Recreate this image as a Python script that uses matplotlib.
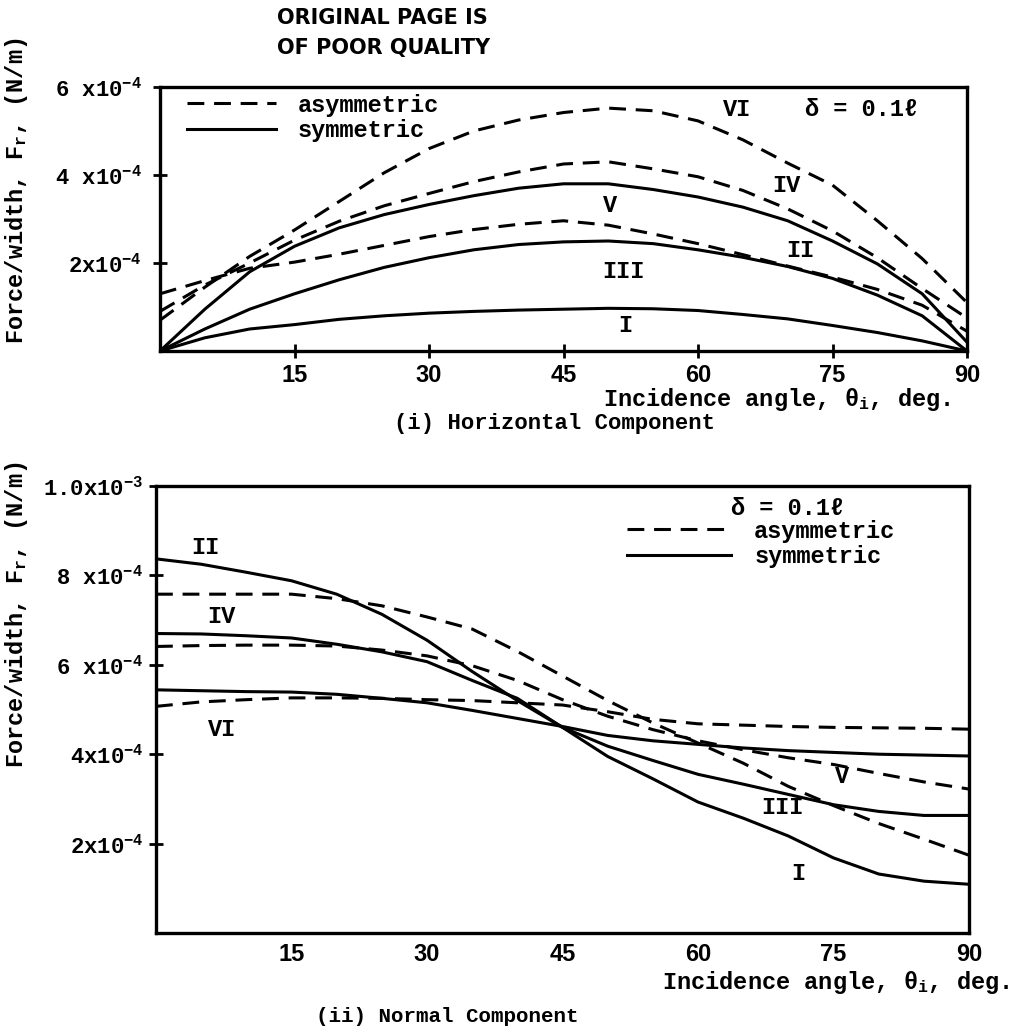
import numpy as np
import matplotlib.pyplot as plt
from matplotlib.lines import Line2D

plt.rcParams['font.family'] = ['Liberation Mono', 'DejaVu Sans']
plt.rcParams['font.weight'] = 'bold'
plt.rcParams['mathtext.fontset'] = 'custom'
plt.rcParams['mathtext.rm'] = 'Liberation Mono:bold'
plt.rcParams['mathtext.it'] = 'Liberation Mono:bold'
plt.rcParams['mathtext.bf'] = 'Liberation Mono:bold'

# incidence angle, deg
angles = [0, 5, 10, 15, 20, 25, 30, 35, 40, 45, 50, 55, 60, 65, 70, 75, 80, 85, 90]

# (i) horizontal component, units of 1e-4 N/m
hor_I = [0, 0.3, 0.5, 0.6, 0.72, 0.8, 0.86, 0.9, 0.93, 0.95, 0.97, 0.96, 0.92, 0.83, 0.73, 0.58, 0.42, 0.23, 0.0]
hor_III = [0, 0.5, 0.95, 1.3, 1.62, 1.9, 2.12, 2.3, 2.42, 2.48, 2.5, 2.44, 2.3, 2.13, 1.92, 1.65, 1.27, 0.8, 0.0]
hor_V = [0, 0.95, 1.8, 2.38, 2.8, 3.1, 3.33, 3.53, 3.7, 3.8, 3.8, 3.67, 3.5, 3.27, 2.96, 2.5, 1.98, 1.3, 0.2]
hor_II = [1.3, 1.6, 1.88, 2.02, 2.2, 2.4, 2.6, 2.76, 2.88, 2.96, 2.86, 2.66, 2.44, 2.19, 1.93, 1.68, 1.4, 1.04, 0.45]
hor_IV = [0.9, 1.5, 2.0, 2.52, 2.95, 3.3, 3.58, 3.85, 4.07, 4.25, 4.3, 4.14, 3.96, 3.65, 3.23, 2.73, 2.12, 1.42, 0.75]
hor_VI = [0.7, 1.45, 2.15, 2.75, 3.4, 4.05, 4.6, 5.0, 5.25, 5.42, 5.52, 5.46, 5.23, 4.8, 4.27, 3.77, 2.96, 2.1, 1.1]

# (ii) normal component, units of 1e-4 N/m
nor_I = [8.37, 8.25, 8.07, 7.88, 7.58, 7.13, 6.55, 5.85, 5.2, 4.6, 3.95, 3.45, 2.93, 2.57, 2.17, 1.68, 1.32, 1.16, 1.09]
nor_III = [6.7, 6.69, 6.65, 6.6, 6.46, 6.29, 6.07, 5.65, 5.25, 4.6, 4.18, 3.86, 3.55, 3.33, 3.1, 2.87, 2.72, 2.63, 2.63]
nor_V = [5.44, 5.42, 5.4, 5.39, 5.34, 5.25, 5.15, 4.98, 4.8, 4.62, 4.42, 4.3, 4.22, 4.14, 4.08, 4.04, 4.0, 3.98, 3.96]
nor_II = [7.58, 7.58, 7.58, 7.58, 7.48, 7.32, 7.07, 6.8, 6.3, 5.75, 5.2, 4.7, 4.25, 3.8, 3.28, 2.85, 2.45, 2.1, 1.74]
nor_IV = [6.41, 6.43, 6.44, 6.44, 6.42, 6.33, 6.2, 5.98, 5.65, 5.22, 4.85, 4.55, 4.3, 4.1, 3.92, 3.77, 3.57, 3.38, 3.22]
nor_VI = [5.07, 5.17, 5.22, 5.26, 5.26, 5.25, 5.22, 5.2, 5.15, 5.1, 4.95, 4.78, 4.68, 4.65, 4.62, 4.6, 4.59, 4.58, 4.56]

x_ticks = [15, 30, 45, 60, 75, 90]
hor_yticks = [2, 4, 6]
hor_ylabels = ['2x10$^{-4}$', '4 x10$^{-4}$', '6 x10$^{-4}$']
nor_yticks = [2, 4, 6, 8, 10]
nor_ylabels = ['2x10$^{-4}$', '4x10$^{-4}$', '6 x10$^{-4}$', '8 x10$^{-4}$', '1.0x10$^{-3}$']

# curve labels: (text, angle, value in 1e-4)
hor_tags = [('VI', 64.4, 5.5), ('IV', 69.9, 3.75), ('V', 50.2, 3.3),
            ('II', 71.4, 2.29), ('III', 51.7, 1.8), ('I', 51.9, 0.57)]
nor_tags = [('II', 5.5, 8.62), ('IV', 7.2, 7.07), ('VI', 7.3, 4.56),
            ('V', 75.9, 3.5), ('III', 69.3, 2.8), ('I', 71.1, 1.33)]

W, H = 1018, 1031
fig = plt.figure(figsize=(W / 100, H / 100), dpi=100)


def box(l, t, r, b):
    return [l / W, 1 - b / H, (r - l) / W, (b - t) / H]


ax1 = fig.add_axes(box(160, 87, 967, 351))
ax2 = fig.add_axes(box(156, 486, 969, 933))

dash = (0, (5.5, 3.2))
lw = 2.2
scale = 1e-4

for ax, sym, asym in [(ax1, [hor_I, hor_III, hor_V], [hor_II, hor_IV, hor_VI]),
                      (ax2, [nor_I, nor_III, nor_V], [nor_II, nor_IV, nor_VI])]:
    for v in sym:
        ax.plot(angles, np.array(v) * scale, color='black', lw=lw, solid_capstyle='round')
    for v in asym:
        ax.plot(angles, np.array(v) * scale, color='black', lw=lw, linestyle=dash)
    ax.set_xlim(0, 90)
    ax.set_xticks(x_ticks)
    for s in ax.spines.values():
        s.set_linewidth(2.4)
    for lab in ax.get_xticklabels():
        lab.set_fontfamily('Liberation Sans')
        lab.set_fontweight('bold')
        lab.set_fontsize(17)

ax1.set_ylim(0, 6 * scale)
ax1.set_yticks(np.array(hor_yticks) * scale, hor_ylabels, fontsize=16)
ax1.tick_params(axis='both', direction='inout', length=10, width=2)
ax1.tick_params(axis='x', pad=4)
ax1.tick_params(axis='y', pad=8)

ax2.set_ylim(0, 10 * scale)
ax2.set_yticks(np.array(nor_yticks) * scale, nor_ylabels, fontsize=16)
ax2.tick_params(axis='y', direction='inout', length=10, width=2, pad=4)
ax2.tick_params(axis='x', length=0, pad=7)

for ax, tags in [(ax1, hor_tags), (ax2, nor_tags)]:
    for t, a, v in tags:
        ax.text(a, v * scale, t, fontsize=17, ha='center', va='center')

ax1.text(78.2, 5.5 * scale, 'δ = 0.1ℓ', fontsize=17, ha='center', va='center',
         family=['Liberation Mono', 'DejaVu Sans'])
ax2.text(69.9, 9.5 * scale, 'δ = 0.1ℓ', fontsize=17, ha='center', va='center',
         family=['Liberation Mono', 'DejaVu Sans'])

handles = [Line2D([], [], color='black', lw=lw, linestyle=(0, (5.5, 3.2))),
           Line2D([], [], color='black', lw=lw)]
ax1.legend(handles, ['asymmetric', 'symmetric'], loc='upper left', bbox_to_anchor=(0.033, 0.975),
           frameon=False, fontsize=17, handlelength=3.8, handletextpad=0.9,
           labelspacing=0.1, borderpad=0, borderaxespad=0)
ax2.legend(handles, ['asymmetric', 'symmetric'], loc='upper left', bbox_to_anchor=(0.579, 0.925),
           frameon=False, fontsize=17, handlelength=4.4, handletextpad=1.0,
           labelspacing=0.1, borderpad=0, borderaxespad=0)

fig.text(277 / W, 1 - 18 / H, 'ORIGINAL PAGE IS', family='DejaVu Sans', fontsize=15,
         weight='bold', va='center', ha='left')
fig.text(277 / W, 1 - 48 / H, 'OF POOR QUALITY', family='DejaVu Sans', fontsize=15,
         weight='bold', va='center', ha='left')

ylab = 'Force/width, F$_r$, (N/m)'
fig.text(17 / W, 1 - 191 / H, ylab, rotation=90, fontsize=17, ha='center', va='center')
fig.text(17 / W, 1 - 615 / H, ylab, rotation=90, fontsize=17, ha='center', va='center')

xlab = 'Incidence angle, θ$_i$, deg.'
fig.text(951 / W, 1 - 400 / H, xlab, fontsize=17, ha='right', va='center')
fig.text(1010 / W, 1 - 983 / H, xlab, fontsize=17, ha='right', va='center')

fig.text(555 / W, 1 - 423 / H, '(i) Horizontal Component', fontsize=16, ha='center', va='center')
fig.text(447 / W, 1 - 1016 / H, '(ii) Normal Component', fontsize=15, ha='center', va='center')

fig.savefig('out.png', dpi=100)
